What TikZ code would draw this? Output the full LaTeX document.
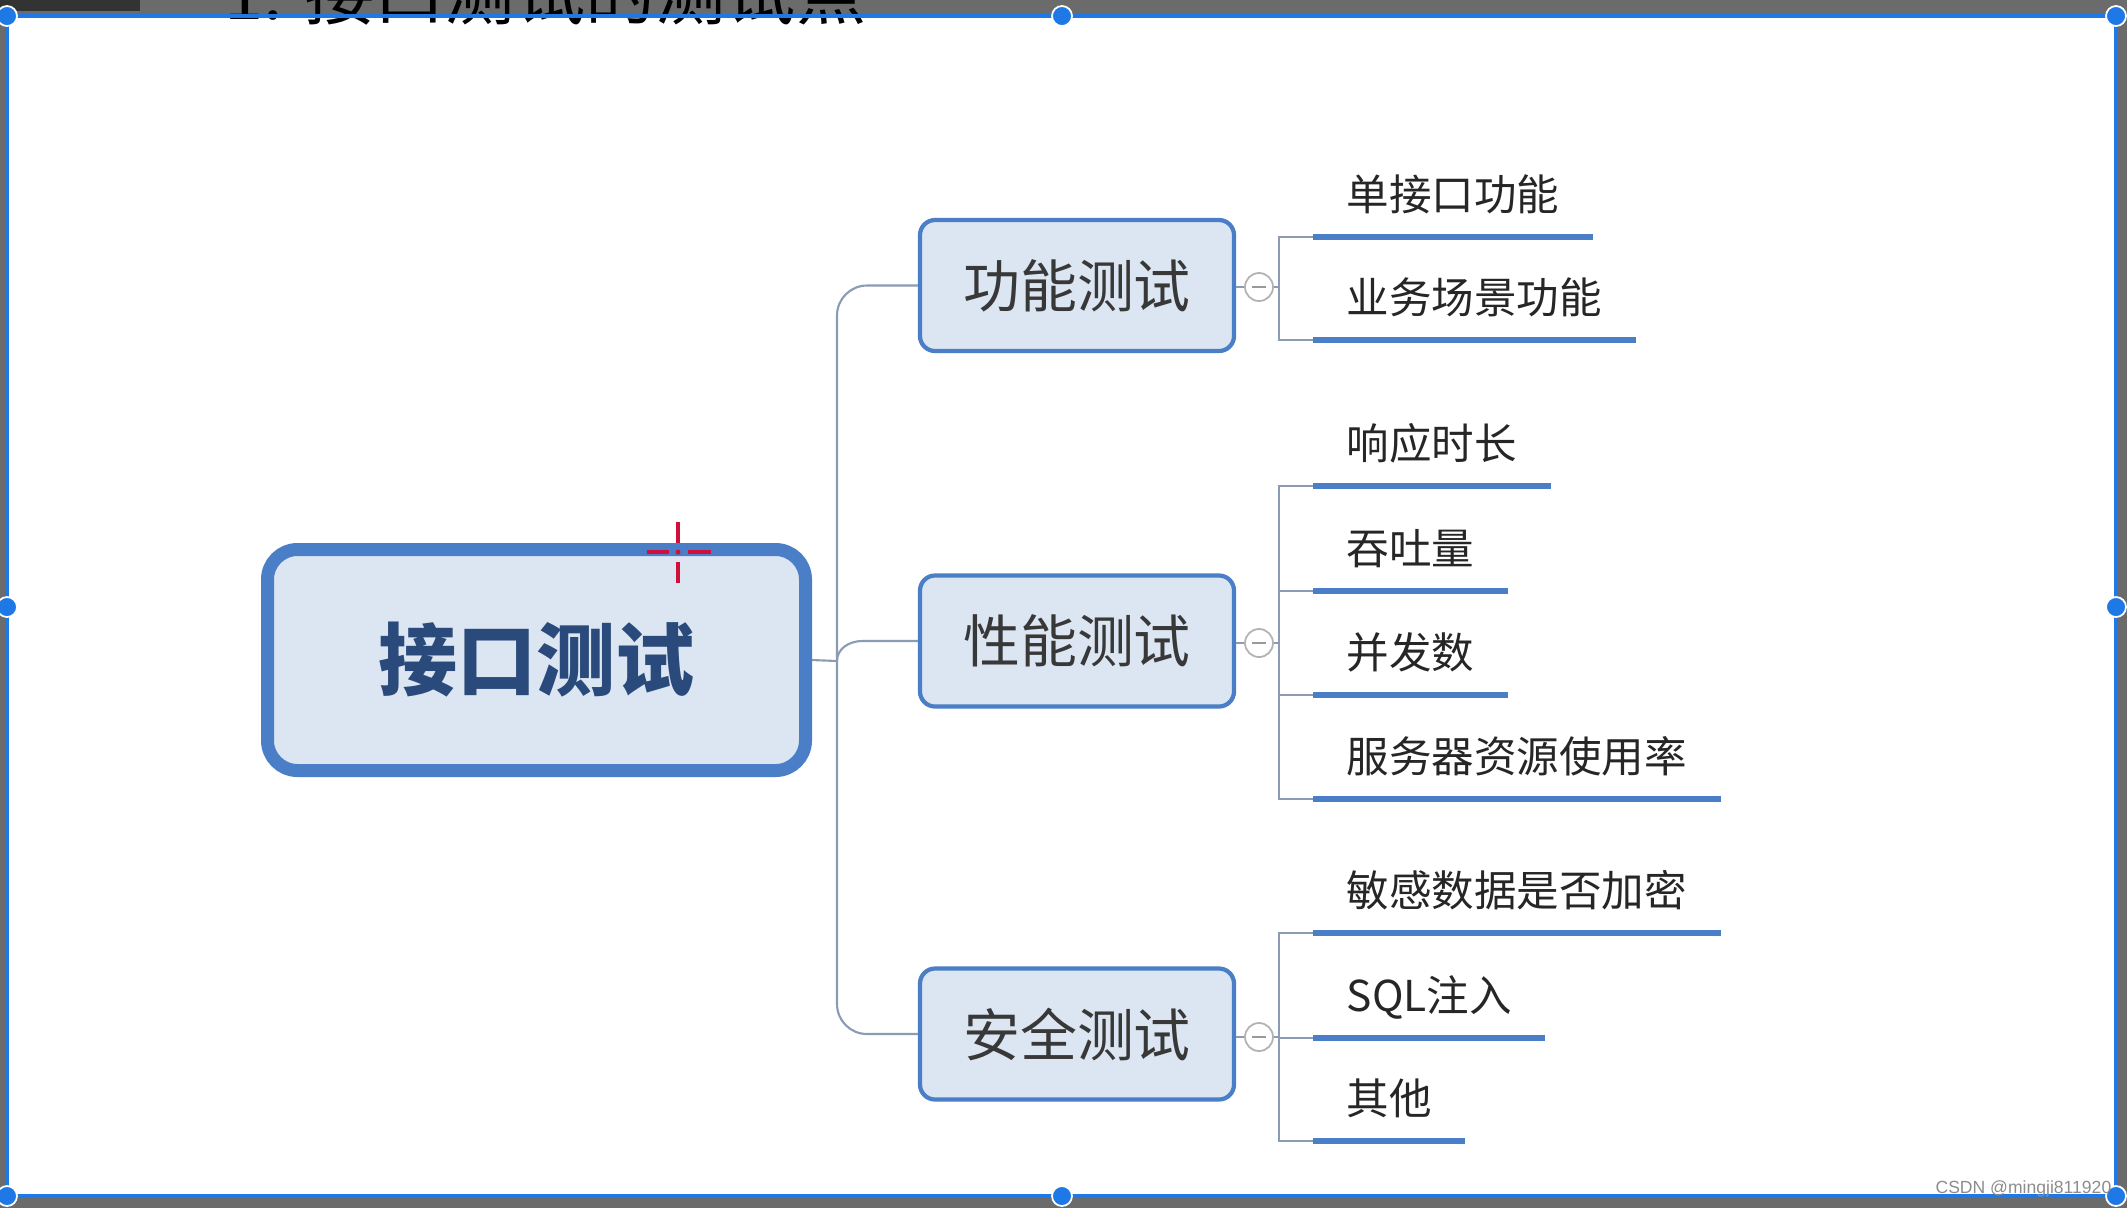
\documentclass[tikz,border=0pt]{standalone}
\usepackage{fontspec}
\setmainfont{Noto Sans CJK SC}
\newfontfamily\latinsans{Liberation Sans}
\usetikzlibrary{positioning}

\definecolor{boxline}{HTML}{4A7EC6}
\definecolor{boxfill}{HTML}{DCE6F2}
\definecolor{roottext}{HTML}{2A4A7C}
\definecolor{branchgray}{HTML}{8A9BB3}
\definecolor{selblue}{HTML}{1E78E6}
\definecolor{shotgray}{HTML}{6B6B6B}
\definecolor{cursorred}{HTML}{D0103A}

\tikzset{
  root/.style={draw=boxline, line width=3.7pt, fill=boxfill, rounded corners=0.3cm,
    minimum width=5.38cm, minimum height=2.21cm, text=roottext,
    font=\fontsize{22.5}{22.5}\selectfont\bfseries},
  topic/.style={draw=boxline, line width=1.2pt, fill=boxfill, rounded corners=0.15cm,
    minimum width=3.14cm, minimum height=1.31cm, text=black!78,
    font=\fontsize{16.2}{16.2}\selectfont},
  leaf/.style={anchor=south west, inner xsep=0.33cm, inner ysep=0.26cm, text depth=0pt,
    text=black!85, font=\fontsize{12.1}{12.1}\selectfont},
  uline/.style={draw=boxline, line width=1.9pt},
  branch/.style={draw=branchgray, line width=0.6pt},
  fold/.style={circle, draw=black!30, fill=white, line width=0.5pt, minimum size=0.28cm,
    inner sep=0pt, path picture={\draw[black!40, line width=0.6pt]
      ([xshift=0.07cm]path picture bounding box.west) --
      ([xshift=-0.07cm]path picture bounding box.east);}},
  handle/.style={circle, fill=selblue, draw=white, line width=0.5pt, minimum size=0.2cm, inner sep=0pt}
}

\begin{document}
\begin{tikzpicture}

% Screenshot frame
\useasboundingbox (0,0) rectangle (21.27,-12.08);
\fill[shotgray] (0,0) rectangle (21.27,-12.08);
\fill[black!80] (0,0) rectangle (1.40,-0.11);
\fill[white] (0.07,-0.16) rectangle (21.16,-11.96);

% Cut-off title
\begin{scope}
  \clip (0,0) rectangle (21.27,-0.24);
  \node[anchor=base west, inner sep=0pt, font=\fontsize{20}{20}\selectfont] (title) at (2.24,-0.19) {1. 接口测试的测试点};
\end{scope}

% Selection box
\draw[selblue, line width=1.3pt] (0.07,-0.16) rectangle (21.16,-11.96);
\foreach \hx/\hy [count=\i] in {0.07/-0.16, 10.62/-0.16, 21.16/-0.16, 0.07/-6.07, 21.16/-6.07, 0.07/-11.96, 10.62/-11.96, 21.16/-11.96}
  \node[handle] (h\i) at (\hx,\hy) {};

% Root and topics
\node[root] (root) at (5.365,-6.60) {接口测试};
\node[topic] (func) at (10.77,-2.855) {功能测试};
\node[topic] (perf) at (10.77,-6.41) {性能测试};
\node[topic] (safe) at (10.77,-10.34) {安全测试};

% Trunk
\coordinate (trunk) at (8.37,-6.61);
\coordinate (rib) at (12.79,0);
\draw[branch] (root.east) -- (trunk);
\draw[branch, rounded corners=0.3cm] (func.west) -| (trunk) |- (safe.west);
\draw[branch] (perf.west) -- (8.62,-6.41) to[out=180, in=90] (trunk);

% Fold buttons
\node[fold] (kf) at (12.59,-2.87) {};
\node[fold] (kp) at (12.59,-6.43) {};
\node[fold] (ks) at (12.59,-10.37) {};
\draw[branch] (func.east |- kf) -- (kf.west);
\draw[branch] (perf.east |- kp) -- (kp.west);
\draw[branch] (safe.east |- ks) -- (ks.west);
\draw[branch] (kf.east) -- (kf -| rib);
\draw[branch] (kp.east) -- (kp -| rib);
\draw[branch] (ks.east) -- (ks -| rib);

% Leaves
\node[leaf] (f1) at (13.13,-2.37) {单接口功能};
\node[leaf] (f2) at (13.13,-3.40) {业务场景功能};
\node[leaf] (p1) at (13.13,-4.86) {响应时长};
\node[leaf] (p2) at (13.13,-5.91) {吞吐量};
\node[leaf] (p3) at (13.13,-6.95) {并发数};
\node[leaf] (p4) at (13.13,-7.99) {服务器资源使用率};
\node[leaf] (s1) at (13.13,-9.33) {敏感数据是否加密};
\node[leaf] (s2) at (13.13,-10.38) {SQL注入};
\node[leaf] (s3) at (13.13,-11.41) {其他};

% Brackets
\draw[branch] (f1.south west) -| (rib |- f1.south) |- (f2.south west);
\draw[branch] (p1.south west) -| (rib |- p1.south) |- (p4.south west);
\draw[branch] (p2.south west) -- (rib |- p2.south);
\draw[branch] (p3.south west) -- (rib |- p3.south);
\draw[branch] (s1.south west) -| (rib |- s1.south) |- (s3.south west);
\draw[branch] (s2.south west) -- (rib |- s2.south);

% Underlines
\foreach \n in {f1,f2,p1,p2,p3,p4,s1,s2,s3}
  \draw[uline] (\n.south west) -- (\n.south east);

% Cursor
\draw[cursorred, line width=1.1pt] (6.78,-5.22) -- (6.78,-5.43) (6.78,-5.62) -- (6.78,-5.83)
  (6.47,-5.52) -- (6.69,-5.52) (6.88,-5.52) -- (7.11,-5.52);
\fill[cursorred] (6.78,-5.52) circle (0.025);

% Watermark
\node[anchor=base east, inner sep=0pt, text=black!45, font=\latinsans\fontsize{5}{5}\selectfont] (mark) at (21.12,-11.93) {CSDN @mingji811920};

\end{tikzpicture}
\end{document}
